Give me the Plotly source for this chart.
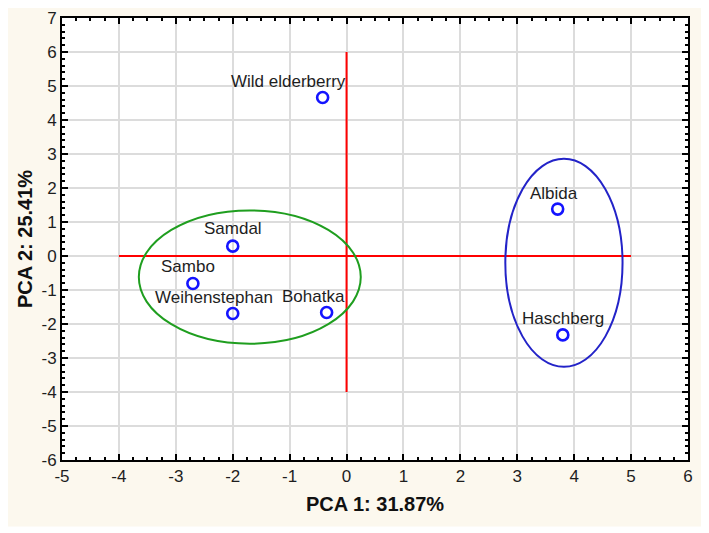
import plotly.graph_objects as go

# ---- data ----
cultivars = ["Wild elderberry", "Samdal", "Sambo", "Weihenstephan", "Bohatka", "Albida", "Haschberg"]
pca1 = [-0.42, -2.0, -2.70, -2.0, -0.35, 3.71, 3.80]
pca2 = [4.66, 0.29, -0.81, -1.69, -1.66, 1.38, -2.32]
label_dx = [-34, 0, -5, -19, -13, -4, 0]   # label offsets (px)
label_dy = [16, 18, 17, 16, 16, 16, 16]

hline_x = [-4, 5]
hline_y = [0, 0]
vline_x = [0, 0]
vline_y = [-4, 6]

# ellipses: center x, center y, radius x, radius y
green_ellipse = [-1.70, -0.62, 1.95, 1.96]
blue_ellipse = [3.82, -0.20, 1.03, 3.06]

x_ticks = list(range(-5, 7))
y_ticks = list(range(-6, 8))

FONT = "Liberation Sans, Arial, sans-serif"

fig = go.Figure()

fig.add_trace(go.Scatter(x=hline_x, y=hline_y, mode="lines",
                         line=dict(color="#ff0000", width=2), showlegend=False, hoverinfo="skip"))
fig.add_trace(go.Scatter(x=vline_x, y=vline_y, mode="lines",
                         line=dict(color="#ff0000", width=2), showlegend=False, hoverinfo="skip"))

fig.add_trace(go.Scatter(
    x=pca1, y=pca2, mode="markers",
    marker=dict(symbol="circle-open", size=11, color="#1414ff", line=dict(width=2.6, color="#1414ff")),
    showlegend=False))

for name, x, y, dx, dy in zip(cultivars, pca1, pca2, label_dx, label_dy):
    fig.add_annotation(x=x, y=y, text=name, showarrow=False, xshift=dx, yshift=dy,
                       font=dict(family=FONT, size=17, color="#1e1e1e"))

def ell(p, color):
    cx, cy, rx, ry = p
    return dict(type="circle", xref="x", yref="y", x0=cx - rx, x1=cx + rx, y0=cy - ry, y1=cy + ry,
                line=dict(color=color, width=2), layer="above")

# backgrounds
fig.add_shape(type="rect", xref="paper", yref="paper", x0=-0.0927, x1=1.024, y0=-0.1506, y1=1.03,
              fillcolor="#fcf8ee", line=dict(width=0), layer="below")
fig.add_shape(type="rect", xref="paper", yref="paper", x0=0, x1=1, y0=0, y1=1,
              fillcolor="#ffffff", line=dict(width=0), layer="below")
fig.add_shape(**ell(green_ellipse, "#1f9e1f"))
fig.add_shape(**ell(blue_ellipse, "#2323c8"))

axis_common = dict(
    showgrid=True, gridcolor="#dcdcdc", gridwidth=1.5,
    zeroline=False, showline=True, linecolor="#000000", linewidth=2, mirror="ticks",
    ticks="inside", ticklen=6, tickwidth=2, tickcolor="#000000",
    tickfont=dict(family=FONT, size=17, color="#1e1e1e"),
    automargin=False, ticklabeloverflow="allow",
)

fig.update_xaxes(range=[-5, 6], tickvals=x_ticks, ticktext=[str(v) for v in x_ticks],
                 minor=dict(dtick=0.25, tick0=-5, ticks="inside", ticklen=3, tickwidth=1.5, tickcolor="#000", showgrid=False),
                 title=dict(text="<b>PCA 1: 31.87%</b>", font=dict(family=FONT, size=20, color="#111"), standoff=12),
                 **axis_common)
fig.update_yaxes(range=[-6, 7], tickvals=y_ticks, ticktext=[str(v) for v in y_ticks],
                 minor=dict(dtick=0.2, tick0=-6, ticks="inside", ticklen=3, tickwidth=1.5, tickcolor="#000", showgrid=False),
                 title=dict(text="<b>PCA 2: 25.41%</b>", font=dict(family=FONT, size=20, color="#111"), standoff=3),
                 **axis_common)

# page body has an 8px margin: figure is 701x525 placed at (8,8)
fig.update_layout(
    width=701, height=525,
    margin=dict(l=54, r=21, t=10, b=73, autoexpand=False),
    paper_bgcolor="#ffffff", plot_bgcolor="#ffffff",
    showlegend=False,
)

fig.write_html("out.html")
